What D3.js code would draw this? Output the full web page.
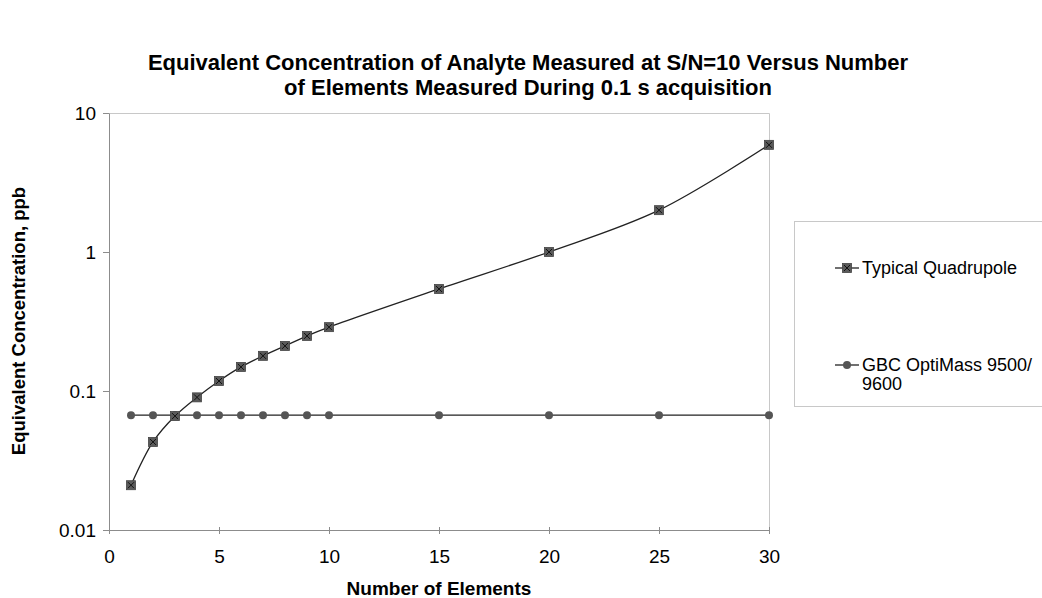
<!DOCTYPE html>
<html>
<head>
<meta charset="utf-8">
<script src="https://d3js.org/d3.v7.min.js"></script>
<style>
  body { margin: 0; background: #fff; }
  text { font-family: Arial, "Liberation Sans", sans-serif; }
</style>
</head>
<body>
<div id="chart"></div>
<script>
// data
var elements = [1, 2, 3, 4, 5, 6, 7, 8, 9, 10, 15, 20, 25, 30];
var quadrupole = [0.021, 0.043, 0.066, 0.09, 0.118, 0.149, 0.179, 0.211, 0.249, 0.288, 0.542, 1.0, 2.0, 5.9];
var optimass = [0.067, 0.067, 0.067, 0.067, 0.067, 0.067, 0.067, 0.067, 0.067, 0.067, 0.067, 0.067, 0.067, 0.067];
var xTicks = [0, 5, 10, 15, 20, 25, 30];
var yTicks = [0.01, 0.1, 1, 10];
var yTickLabels = ["0.01", "0.1", "1", "10"];

var W = 1042, H = 598;
var margin = {top: 113, left: 109},
    width = 660,
    height = 417;

var svg = d3.select("#chart")
    .append("svg")
    .attr("width", W)
    .attr("height", H);

// title
var title = svg.append("text")
    .attr("x", 528)
    .attr("y", 70)
    .style("text-anchor", "middle")
    .style("font-size", "22px")
    .style("font-weight", "bold");
title.append("tspan").attr("x", 528).attr("dy", 0)
    .text("Equivalent Concentration of Analyte Measured at S/N=10 Versus Number");
title.append("tspan").attr("x", 528).attr("dy", 25)
    .text("of Elements Measured During 0.1 s acquisition");

var g = svg.append("g")
    .attr("transform", "translate(" + margin.left + "," + margin.top + ")");

var x = d3.scaleLinear().domain([0, 30]).range([0, width]);
var y = d3.scaleLog().domain([0.01, 10]).range([height, 0]);

// plot area border (top, right)
g.append("path")
    .attr("d", "M0,0.5H" + (width + 0.5) + "V" + height)
    .attr("fill", "none")
    .attr("stroke", "#c8c8c8")
    .attr("stroke-width", 1);

// axes
var xAxis = g.append("g")
    .attr("transform", "translate(0," + height + ")")
    .call(d3.axisBottom(x).tickValues(xTicks).tickSize(5).tickSizeOuter(0));
xAxis.selectAll(".tick line").attr("y1", -3).attr("y2", 4);
xAxis.selectAll("text").attr("dy", "0").attr("y", 33);

var yAxis = g.append("g")
    .call(d3.axisLeft(y).tickValues(yTicks)
        .tickFormat(function(d, i) { return yTickLabels[i]; })
        .tickSize(6).tickSizeOuter(0));
yAxis.selectAll("text").attr("x", -13).attr("dy", "0.35em");

[xAxis, yAxis].forEach(function(a) {
    a.select(".domain").attr("stroke", "#8c8c8c");
    a.selectAll(".tick line").attr("stroke", "#8c8c8c");
    a.selectAll("text").style("font-size", "19px").attr("fill", "#000")
        .style("font-family", "Arial, 'Liberation Sans', sans-serif");
});

// axis titles
svg.append("text")
    .attr("x", 439)
    .attr("y", 595)
    .style("text-anchor", "middle")
    .style("font-size", "19px")
    .style("font-weight", "bold")
    .text("Number of Elements");

svg.append("text")
    .attr("transform", "translate(25,321) rotate(-90)")
    .style("text-anchor", "middle")
    .style("font-size", "18.5px")
    .style("font-weight", "bold")
    .text("Equivalent Concentration, ppb");

// lines
var quadData = elements.map(function(e, i) { return {x: e, y: quadrupole[i]}; });
var optiData = elements.map(function(e, i) { return {x: e, y: optimass[i]}; });

var smooth = d3.line()
    .x(function(d) { return x(d.x); })
    .y(function(d) { return y(d.y); })
    .curve(d3.curveCatmullRom.alpha(0.5));

var straight = d3.line()
    .x(function(d) { return x(d.x); })
    .y(function(d) { return y(d.y); });

g.append("path")
    .datum(optiData)
    .attr("fill", "none")
    .attr("stroke", "#222")
    .attr("stroke-width", 1.3)
    .attr("d", straight);

g.append("path")
    .datum(quadData)
    .attr("fill", "none")
    .attr("stroke", "#222")
    .attr("stroke-width", 1.3)
    .attr("d", smooth);

function squareMarker(sel, cx, cy) {
    sel.append("rect")
        .attr("x", cx - 4.5).attr("y", cy - 4.5)
        .attr("width", 9).attr("height", 9)
        .attr("fill", "#5a5a5a")
        .attr("stroke", "#444").attr("stroke-width", 0.8);
    sel.append("path")
        .attr("d", "M" + (cx - 3) + "," + (cy - 3) + "L" + (cx + 3) + "," + (cy + 3) +
                   "M" + (cx + 3) + "," + (cy - 3) + "L" + (cx - 3) + "," + (cy + 3))
        .attr("stroke", "#111").attr("stroke-width", 1);
}

function circleMarker(sel, cx, cy) {
    sel.append("circle")
        .attr("cx", cx).attr("cy", cy).attr("r", 4)
        .attr("fill", "#555");
}

var om = g.append("g");
optiData.forEach(function(d) { circleMarker(om, x(d.x), y(d.y)); });
var qm = g.append("g");
quadData.forEach(function(d) { squareMarker(qm, x(d.x), y(d.y)); });

// legend
var legend = svg.append("g");
legend.append("rect")
    .attr("x", 794.5).attr("y", 221.5)
    .attr("width", 260).attr("height", 185)
    .attr("fill", "#fff")
    .attr("stroke", "#c8c8c8");

var ly1 = 268, ly2 = 365;
legend.append("line").attr("x1", 835).attr("x2", 859).attr("y1", ly1).attr("y2", ly1)
    .attr("stroke", "#222").attr("stroke-width", 1.3);
squareMarker(legend, 847, ly1);
legend.append("text").attr("x", 862).attr("y", ly1).attr("dy", "0.35em")
    .style("font-size", "18px").text("Typical Quadrupole");

legend.append("line").attr("x1", 835).attr("x2", 859).attr("y1", ly2).attr("y2", ly2)
    .attr("stroke", "#222").attr("stroke-width", 1.3);
circleMarker(legend, 847, ly2);
var lt = legend.append("text").attr("x", 862).attr("y", ly2).attr("dy", "0.35em")
    .style("font-size", "18px");
lt.append("tspan").attr("x", 862).text("GBC OptiMass 9500/");
lt.append("tspan").attr("x", 862).attr("dy", 19).text("9600");
</script>
</body>
</html>
